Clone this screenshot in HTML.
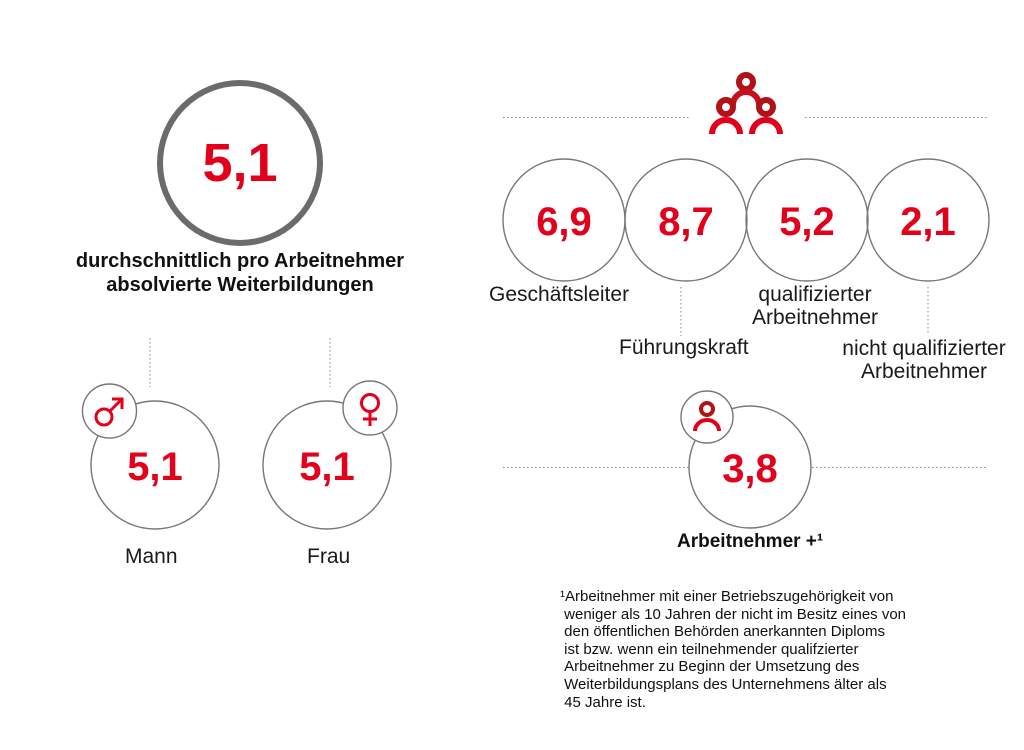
<!DOCTYPE html>
<html><head><meta charset="utf-8"><style>
body{margin:0;width:1024px;height:750px;background:#fff;overflow:hidden;position:relative;font-family:"Liberation Sans",sans-serif;}
.t{position:absolute;white-space:nowrap;}
.n{color:#e2001a;font-weight:bold;text-align:center;}
.l{color:#1a1a1a;font-size:21px;}
</style></head><body>
<svg width="1024" height="750" style="position:absolute;left:0;top:0">
<g fill="none" stroke="#777" stroke-width="1.4">
<circle cx="240" cy="163" r="80" stroke="#6b6b6b" stroke-width="6"/>
<circle cx="155" cy="465" r="64"/>
<circle cx="327" cy="465" r="64"/>
<circle cx="564" cy="220" r="61"/>
<circle cx="686" cy="220" r="61"/>
<circle cx="807" cy="220" r="61"/>
<circle cx="928" cy="220" r="61"/>
<circle cx="750" cy="467" r="61"/>
</g>
<g fill="#fff" stroke="#777" stroke-width="1.4">
<circle cx="109.5" cy="411" r="27"/>
<circle cx="370" cy="408" r="27"/>
<circle cx="707" cy="417" r="26"/>
</g>
<g stroke="#888" stroke-width="1" stroke-dasharray="1.5,2.5">
<line x1="150" y1="338" x2="150" y2="387"/>
<line x1="330" y1="338" x2="330" y2="387"/>
<line x1="503" y1="117.5" x2="690" y2="117.5"/>
<line x1="805" y1="117.5" x2="988" y2="117.5"/>
<line x1="681" y1="287" x2="681" y2="336"/>
<line x1="928" y1="287" x2="928" y2="335"/>
<line x1="503" y1="467.5" x2="689" y2="467.5"/>
<line x1="812" y1="467.5" x2="988" y2="467.5"/>
</g>
<g stroke="#e2001a" stroke-width="3" fill="none">
<circle cx="104" cy="417" r="8"/>
<line x1="110" y1="411" x2="121" y2="400"/>
<polyline points="112,399 122,399 122,409"/>
<circle cx="370" cy="403" r="8.5"/>
<line x1="370" y1="412" x2="370" y2="426"/>
<line x1="363" y1="419" x2="377" y2="419"/>
</g>
<g fill="none" stroke-width="6">
<circle cx="746" cy="82" r="7" stroke="#b01218"/>
<path d="M733 105 A13 13 0 0 1 759 105" stroke="#c8101d"/>
<circle cx="726" cy="107" r="7" stroke="#b01218"/>
<circle cx="766" cy="107" r="7" stroke="#b01218"/>
<path d="M712 134 A14 14 0 0 1 740 134" stroke="#e2001a"/>
<path d="M752 134 A14 14 0 0 1 780 134" stroke="#e2001a"/>
<circle cx="707" cy="409" r="6" stroke="#b01218" stroke-width="4"/>
<path d="M695 431 A12 11 0 0 1 719 431" stroke="#e2001a" stroke-width="4"/>
</g>
</svg>
<div class="t n" style="left:160px;top:132px;width:160px;font-size:54px">5,1</div>
<div class="t" style="left:40px;top:249px;width:400px;text-align:center;font-weight:bold;font-size:20px;line-height:24px;color:#111">durchschnittlich pro Arbeitnehmer<br>absolvierte Weiterbildungen</div>
<div class="t n" style="left:95px;top:445px;width:120px;font-size:40px">5,1</div>
<div class="t n" style="left:267px;top:445px;width:120px;font-size:40px">5,1</div>
<div class="t l" style="left:125px;top:545px">Mann</div>
<div class="t l" style="left:307px;top:545px">Frau</div>
<div class="t n" style="left:504px;top:200px;width:120px;font-size:40px">6,9</div>
<div class="t n" style="left:626px;top:200px;width:120px;font-size:40px">8,7</div>
<div class="t n" style="left:747px;top:200px;width:120px;font-size:40px">5,2</div>
<div class="t n" style="left:868px;top:200px;width:120px;font-size:40px">2,1</div>
<div class="t l" style="left:489px;top:283px">Geschäftsleiter</div>
<div class="t l" style="left:619px;top:336px">Führungskraft</div>
<div class="t l" style="left:744px;top:283px;width:142px;text-align:center;line-height:23px">qualifizierter<br>Arbeitnehmer</div>
<div class="t l" style="left:834px;top:337px;width:180px;text-align:center;line-height:23px">nicht qualifizierter<br>Arbeitnehmer</div>
<div class="t n" style="left:690px;top:447px;width:120px;font-size:40px">3,8</div>
<div class="t" style="left:677px;top:531px;font-weight:bold;font-size:19px;color:#111">Arbeitnehmer +¹</div>
<div class="t" style="left:560px;top:588px;font-size:15px;line-height:17.6px;color:#111">¹Arbeitnehmer mit einer Betriebszugehörigkeit von<br>&nbsp;weniger als 10 Jahren der nicht im Besitz eines von<br>&nbsp;den öffentlichen Behörden anerkannten Diploms<br>&nbsp;ist bzw. wenn ein teilnehmender qualifzierter<br>&nbsp;Arbeitnehmer zu Beginn der Umsetzung des<br>&nbsp;Weiterbildungsplans des Unternehmens älter als<br>&nbsp;45 Jahre ist.</div>
</body></html>
